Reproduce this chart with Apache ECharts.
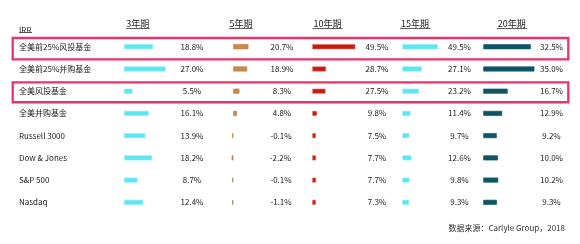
<!DOCTYPE html>
<html>
<head>
<meta charset="utf-8">
<script src="https://cdn.jsdelivr.net/npm/echarts@6/dist/echarts.min.js"></script>
<style>
html,body{margin:0;padding:0;background:#fff;}
#c{width:580px;height:244px;}
</style>
</head>
<body>
<div id="c"></div>
<script>
// ---- data ----
const categories = ['全美前25%风投基金','全美前25%并购基金','全美风投基金','全美并购基金','Russell 3000','Dow & Jones','S&P 500','Nasdaq'];
const headers = ['3年期','5年期','10年期','15年期','20年期'];
const threeYear = [18.8, 27.0, 5.5, 16.1, 13.9, 18.2, 8.7, 12.4];
const fiveYear = [20.7, 18.9, 8.3, 4.8, -0.1, -2.2, -0.1, -1.1];
const tenYear = [49.5, 28.7, 27.5, 9.8, 7.5, 7.7, 7.7, 7.3];
// bar lengths as drawn in the picture for 10年期 (first bar is drawn longer than its label)
const tenYearBar = [89.5, 28.7, 27.5, 9.8, 7.5, 7.7, 7.7, 7.3];
const fifteenYear = [49.5, 27.1, 23.2, 11.4, 9.7, 12.6, 9.8, 9.3];
const twentyYear = [32.5, 35.0, 16.7, 12.9, 9.2, 10.0, 10.2, 9.3];
const cornerLabel = 'IRR';
const sourceText = '数据来源：Carlyle Group，2018';
const highlightRows = [0, 2];

// ---- layout ----
const FONT = '"Noto Sans CJK SC", "Noto Sans", sans-serif';
const rowTop = 35.6, rowH = 22.23;
const cols = [
  {origin:124,   scale:1.54, min:0,   max:40,  labelX:192,   color:'#5ee5f3', border:'#8cf0f8', bars:threeYear,   labels:threeYear,   hx:137.7, ux:[126,149.5]},
  {origin:233.3, scale:0.73, min:-10, max:30,  labelX:282,   color:'#c98a4c', border:'#b5763a', bars:fiveYear,    labels:fiveYear,    hx:241,   ux:[229.3,252.5]},
  {origin:312.3, scale:0.48, min:0,   max:100, labelX:377,   color:'#c81a10', border:'#e66a62', bars:tenYearBar,  labels:tenYear,     hx:327.5, ux:[312.7,342.5]},
  {origin:402.3, scale:0.72, min:0,   max:60,  labelX:459.5, color:'#5ee5f3', border:'#8cf0f8', bars:fifteenYear, labels:fifteenYear, hx:415,   ux:[400,430.5]},
  {origin:483.3, scale:1.46, min:0,   max:40,  labelX:551.5, color:'#0d5566', border:'#0d5566', bars:twentyYear,  labels:twentyYear,  hx:511.7, ux:[496.7,527]}
];

const grid = [], xAxis = [], yAxis = [], series = [];
cols.forEach((c, i) => {
  const left = c.origin + c.min * c.scale;
  grid.push({left: left, top: rowTop, width: (c.max - c.min) * c.scale, height: rowH * categories.length, containLabel: false});
  xAxis.push({type:'value', gridIndex:i, min:c.min, max:c.max, show:false});
  const ya = {type:'category', gridIndex:i, data:categories, inverse:true,
    axisLine:{show:false}, axisTick:{show:false}, splitLine:{show:false},
    axisLabel:{show:false}};
  if (i === 0) {
    ya.axisLabel = {show:true, align:'left', margin: c.origin - 19, color:'#1a1a1a',
      fontFamily:FONT, fontSize:8, padding:[10,0,0,0]};
  }
  yAxis.push(ya);
  series.push({
    type:'bar', xAxisIndex:i, yAxisIndex:i, data:c.bars, barWidth:5, barMinHeight:1,
    itemStyle:{color:c.color, borderColor:c.border, borderWidth:0.6},
    animation:false,
    label:{show:true, position:[c.labelX - c.origin, '50%'], align:'center', verticalAlign:'middle',
      color:'#1a1a1a', fontFamily:FONT, fontSize:8,
      formatter: p => c.labels[p.dataIndex].toFixed(1) + '%'}
  });
});

const graphic = [];
// headers with underline
cols.forEach((c, i) => {
  graphic.push({type:'text', x:c.hx, y:24, style:{text:headers[i], textAlign:'center', textVerticalAlign:'middle', font:'9px ' + FONT, fill:'#1a1a1a'}});
  graphic.push({type:'line', shape:{x1:c.ux[0], y1:28.5, x2:c.ux[1], y2:28.5}, style:{stroke:'#333', lineWidth:0.8}});
});
graphic.push({type:'text', x:19, y:29.5, style:{text:cornerLabel, textAlign:'left', textVerticalAlign:'middle', font:'8px ' + FONT, fill:'#1a1a1a'}});
graphic.push({type:'line', shape:{x1:19, y1:32.5, x2:32, y2:32.5}, style:{stroke:'#333', lineWidth:0.8}});
// highlight boxes
highlightRows.forEach(r => {
  const top = rowTop + r * rowH + 2.4;
  graphic.push({type:'rect', shape:{x:12.7, y:top, width:555.6, height:(r===0?21.3:19.8)}, style:{fill:'none', stroke:'#e8336b', lineWidth:2.3}, z:10});
});
graphic.push({type:'text', x:565, y:228, style:{text:sourceText, textAlign:'right', textVerticalAlign:'middle', font:'8px ' + FONT, fill:'#333'}});

const chart = echarts.init(document.getElementById('c'), null, {renderer:'canvas'});
chart.setOption({animation:false, backgroundColor:'#fff', grid, xAxis, yAxis, series, graphic});
</script>
</body>
</html>
